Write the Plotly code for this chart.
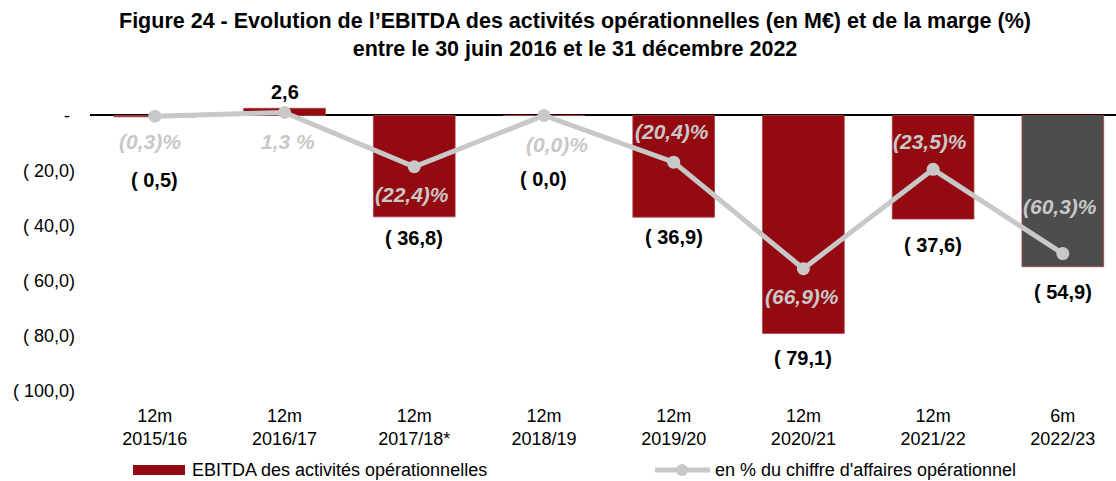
import plotly.graph_objects as go

# ---------------- data ----------------
categories = ["12m<br>2015/16", "12m<br>2016/17", "12m<br>2017/18*", "12m<br>2018/19",
              "12m<br>2019/20", "12m<br>2020/21", "12m<br>2021/22", "6m<br>2022/23"]
ebitda = [-0.5, 2.6, -36.8, 0.0, -36.9, -79.1, -37.6, -54.9]
ebitda_labels = ["( 0,5)", "2,6", "( 36,8)", "( 0,0)", "( 36,9)", "( 79,1)", "( 37,6)", "( 54,9)"]
margin_pct = [-0.3, 1.3, -22.4, 0.0, -20.4, -66.9, -23.5, -60.3]
margin_labels = ["(0,3)%", "1,3 %", "(22,4)%", "(0,0)%", "(20,4)%", "(66,9)%", "(23,5)%", "(60,3)%"]
y_tickvals = [0, -20, -40, -60, -80, -100]
y_ticktext = ["-\u00a0", "( 20,0)", "( 40,0)", "( 60,0)", "( 80,0)", "( 100,0)"]
series_names = ["EBITDA des activités opérationnelles", "en % du chiffre d'affaires opérationnel"]

# ---------------- styles ----------------
RED = "#930A10"
DARK = "#4D4D4D"
LGRAY = "#C8C8C8"
FONT = "Liberation Sans, Arial, sans-serif"
bar_colors = [RED] * 7 + [DARK]

# label offsets (pixels, positive = downward from the mark end)
ebitda_label_dy = [63, -16, 21, 64, 20, 25, 26, 25]
margin_label_dy = [25.5, 29, 28, 29.5, -30.5, 28, -27.6, -47]
margin_label_dx = [-5, 3, -2, 13, -2, -1, -3, -3]

W, H = 1116, 481
ML, MR, MT, MB = 90, 0, 85, 90

fig = go.Figure()
fig.add_trace(go.Bar(
    x=categories, y=ebitda, marker=dict(color=bar_colors, line=dict(width=0.8, color="#B04048")),
    name=series_names[0], showlegend=False, yaxis="y", hoverinfo="skip",
))
fig.add_trace(go.Scatter(
    x=categories, y=margin_pct, mode="lines+markers", yaxis="y2",
    line=dict(color=LGRAY, width=5), marker=dict(color=LGRAY, size=13),
    name=series_names[1], showlegend=False, hoverinfo="skip",
))

annotations = []
for c, v, t, dy in zip(categories, ebitda, ebitda_labels, ebitda_label_dy):
    annotations.append(dict(x=c, y=v, xref="x", yref="y", text=t, showarrow=False,
                            yshift=-dy, yanchor="middle",
                            font=dict(family=FONT, size=20, color="#000000", weight="bold")))
for c, v, t, dy, dx in zip(categories, margin_pct, margin_labels, margin_label_dy, margin_label_dx):
    annotations.append(dict(x=c, y=v, xref="x", yref="y2", text=f"<b><i>{t}</i></b>", showarrow=False,
                            yshift=-dy, xshift=dx, yanchor="middle",
                            font=dict(family=FONT, size=21, color=LGRAY)))

# manual legend (pixel helpers -> paper coords)
pw = W - ML - MR
ph = H - MT - MB
def px_x(px):
    return (px - ML) / pw
def px_y(py):
    return (H - MB - py) / ph

LEG_Y = 470
shapes = [
    dict(type="rect", xref="paper", yref="paper", x0=px_x(133), x1=px_x(185),
         y0=px_y(LEG_Y + 5), y1=px_y(LEG_Y - 5), fillcolor=RED, line=dict(width=0)),
    dict(type="line", xref="paper", yref="paper", x0=px_x(655), x1=px_x(710),
         y0=px_y(LEG_Y), y1=px_y(LEG_Y), line=dict(color=LGRAY, width=5)),
    dict(type="circle", xref="paper", yref="paper", xsizemode="pixel", ysizemode="pixel",
         xanchor=px_x(682), yanchor=px_y(LEG_Y), x0=-6, x1=6, y0=-6, y1=6,
         fillcolor=LGRAY, line=dict(width=0)),
]
annotations.append(dict(x=px_x(190), y=px_y(LEG_Y), xref="paper", yref="paper", text=series_names[0],
                        showarrow=False, xanchor="left", yanchor="middle",
                        font=dict(family=FONT, size=18, color="#000000")))
annotations.append(dict(x=px_x(713), y=px_y(LEG_Y), xref="paper", yref="paper", text=series_names[1],
                        showarrow=False, xanchor="left", yanchor="middle",
                        font=dict(family=FONT, size=18, color="#000000")))

fig.update_layout(
    width=W, height=H,
    margin=dict(l=ML, r=MR, t=MT, b=MB, pad=0),
    paper_bgcolor="white", plot_bgcolor="white",
    title=dict(text="Figure 24 - Evolution de l’EBITDA des activités opérationnelles (en M€) et de la marge (%)"
                    "<br>entre le 30 juin 2016 et le 31 décembre 2022",
               x=575 / W, xref="container", xanchor="center",
               y=1 - 28 / H, yref="container", yanchor="top",
               font=dict(family=FONT, size=21.5, color="#000000", weight="bold")),
    bargap=0.37,
    xaxis=dict(range=[-0.5, 7.41], showgrid=False, showline=False, ticks="", zeroline=False,
               tickfont=dict(family=FONT, size=18, color="#000000"), ticklabelstandoff=12),
    yaxis=dict(range=[-100, 11.06], tickvals=y_tickvals, ticktext=y_ticktext, showgrid=False,
               showline=False, ticks="", zeroline=True, zerolinecolor="#000000", zerolinewidth=2,
               tickfont=dict(family=FONT, size=18, color="#000000"), ticklabelstandoff=14),
    yaxis2=dict(range=[-120.3, 13.3], overlaying="y", visible=False, showgrid=False, zeroline=False),
    annotations=annotations,
    shapes=shapes,
    showlegend=False,
)

fig.write_html("out.html", config={"displayModeBar": False},
               post_script="document.body.style.margin='0';document.body.style.overflow='hidden';")
